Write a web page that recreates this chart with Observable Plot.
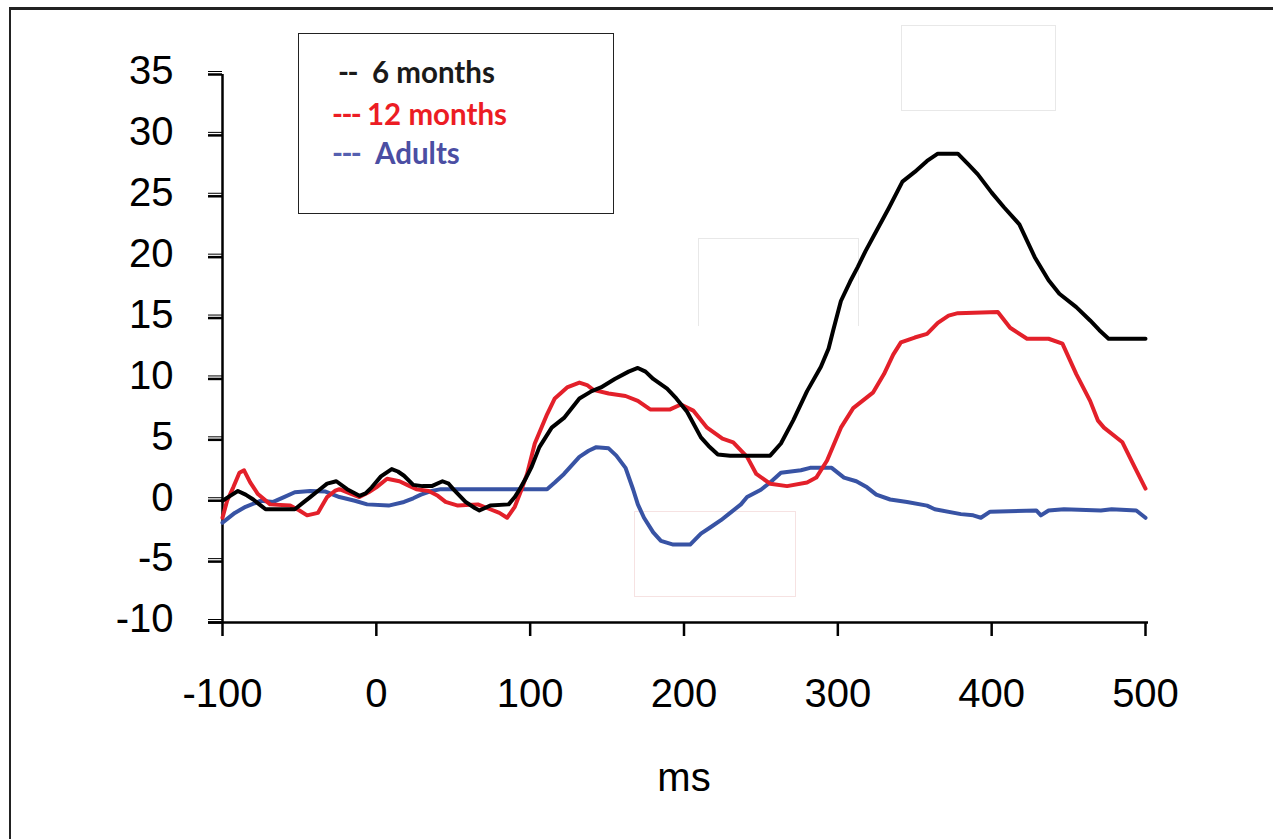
<!DOCTYPE html>
<html>
<head>
<meta charset="utf-8">
<script src="https://cdn.jsdelivr.net/npm/d3@7"></script>
<script src="https://cdn.jsdelivr.net/npm/@observablehq/plot@0.6"></script>
<style>
  html, body { margin: 0; padding: 0; background: #fff; }
  #wrap { position: relative; width: 1273px; height: 839px; overflow: hidden; }
  #frame { position: absolute; left: 9px; top: 7px; width: 1400px; height: 900px;
           border-top: 3px solid #222; border-left: 2px solid #222; }
  #chart { position: absolute; left: 0; top: 0; }
  .ghost { position: absolute; border: 1.5px solid #e8e8e8; box-sizing: border-box; }
  #legend { position: absolute; left: 298px; top: 33px; width: 316px; height: 181px;
            border: 1.5px solid #222; box-sizing: border-box; background: #fff;
            font-family: Lato, "Open Sans", sans-serif; font-weight: bold; font-size: 29.5px; }
  #legend span { position: absolute; line-height: 1; white-space: pre; }
  #legend span.dash { letter-spacing: -1.6px; }
</style>
</head>
<body>
<div id="wrap">
  <div id="frame"></div>
  <div class="ghost" style="left:901px;top:25px;width:155px;height:86px;"></div>
  <div class="ghost" style="left:698px;top:238px;width:161px;height:88px;border-bottom:none;"></div>
  <div class="ghost" style="left:634px;top:511px;width:162px;height:86px;border-color:#f6e2e2;"></div>
  <div id="chart"></div>
  <div id="legend"></div>
</div>
<script>
// ---- data ----
const seriesNames = ["6 months", "12 months", "Adults"];
const seriesColors = ["#000000", "#e3202a", "#3853a4"];
const legendTextColors = ["#1a1a1a", "#ec1c24", "#4b4ea3"];
const legendDashColors = ["#1a1a1a", "#ec1c24", "#5560b0"];
const legendDashes = ["--", "---", "---"];

const xTicks = [-100, 0, 100, 200, 300, 400, 500];
const yTicks = [-10, -5, 0, 5, 10, 15, 20, 25, 30, 35];

const msBlack = [-100,-95,-90,-85,-80,-75,-72,-60,-53,-48,-43,-37,-32,-26,-19,-11,-7,-3,3,10,14,18,24,30,36,43,47,50,58,64,67,74,86,90,93,97,101,106,114,122,132,140,146,155,164,170,175,180,189,195,202,211,216,222,230,256,263,271,280,289,294,297,302,308,313,318,324,333,342,350,358,365,378,385,391,400,408,418,428,437,444,455,464,470,476,500];
const valBlack = [0,0.4,0.8,0.5,0.1,-0.4,-0.7,-0.7,-0.7,-0.2,0.3,0.9,1.4,1.6,0.95,0.4,0.6,1.1,2.0,2.6,2.4,2.05,1.3,1.2,1.2,1.6,1.4,0.95,-0.1,-0.6,-0.8,-0.4,-0.3,0.3,0.9,1.8,2.8,4.4,6.0,6.8,8.4,9.0,9.3,10.0,10.6,10.9,10.6,10.0,9.2,8.4,7.3,5.2,4.5,3.8,3.7,3.7,4.7,6.6,9.0,11.0,12.5,14.0,16.4,18.0,19.2,20.5,21.9,24.0,26.2,27.0,27.9,28.5,28.5,27.6,26.8,25.3,24.1,22.7,20.0,18.1,17.0,15.9,14.8,14.0,13.3,13.3];

const msRed = [-100,-97,-93,-89,-86,-82,-77,-69,-56,-50,-45,-38,-32,-27,-24,-16,-11,-5,0,7,15,20,26,34,40,45,53,66,74,80,85,90,94,98,103,111,116,124,132,137,141,151,162,170,178,191,198,206,215,225,232,241,247,256,267,280,286,293,302,310,323,330,336,341,350,358,365,372,378,404,412,423,437,446,455,464,469,473,485,492,500];
const valRed = [-1.4,0.0,1.1,2.3,2.5,1.5,0.55,-0.3,-0.4,-0.8,-1.2,-1.0,0.3,0.8,0.95,0.55,0.3,0.7,1.1,1.8,1.6,1.3,0.95,0.8,0.4,-0.1,-0.4,-0.3,-0.7,-1.0,-1.4,-0.5,0.8,2.2,4.7,7.1,8.4,9.3,9.7,9.5,9.1,8.8,8.6,8.2,7.5,7.5,7.9,7.4,6.0,5.1,4.8,3.6,2.2,1.4,1.2,1.5,1.9,3.3,6.0,7.6,8.9,10.4,12.0,13.0,13.4,13.7,14.6,15.2,15.4,15.5,14.2,13.3,13.3,12.9,10.4,8.2,6.6,6.0,4.8,3.0,1.0];

const msBlue = [-100,-92,-85,-75,-67,-60,-53,-43,-33,-24,-14,-6,8,18,24,29,36,42,111,116,122,132,138,143,151,156,162,167,170,174,180,185,193,204,211,217,224,229,237,241,250,256,263,276,282,296,304,312,319,325,334,345,358,363,380,388,393,399,429,432,437,447,471,478,494,500];
const valBlue = [-1.8,-1.0,-0.5,0,-0.1,0.3,0.7,0.8,0.75,0.3,0,-0.3,-0.4,-0.1,0.2,0.5,0.8,0.95,0.95,1.5,2.2,3.6,4.1,4.4,4.3,3.7,2.7,0.9,-0.3,-1.4,-2.6,-3.3,-3.6,-3.6,-2.7,-2.2,-1.6,-1.1,-0.3,0.3,0.9,1.5,2.3,2.5,2.7,2.7,1.9,1.6,1.1,0.5,0.1,-0.1,-0.4,-0.7,-1.1,-1.2,-1.4,-0.9,-0.8,-1.2,-0.8,-0.7,-0.8,-0.7,-0.8,-1.4];

// ---- build table ----
const toRows = (name, ms, vals) => ms.map((m, i) => ({series: name, ms: m, value: vals[i]}));
const rowsBlack = toRows(seriesNames[0], msBlack, valBlack);
const rowsRed = toRows(seriesNames[1], msRed, valRed);
const rowsBlue = toRows(seriesNames[2], msBlue, valBlue);

const fmt = d => String(d);

const chart = Plot.plot({
  width: 1273,
  height: 839,
  marginLeft: 222,
  marginRight: 128,
  marginTop: 74,
  marginBottom: 217,
  x: {domain: [xTicks[0], xTicks[xTicks.length - 1]]},
  y: {domain: [yTicks[0], yTicks[yTicks.length - 1]]},
  style: {fontFamily: "'Liberation Sans', Arial, sans-serif", fontSize: "40px", color: "#000", background: "transparent", overflow: "visible"},
  marks: [
    Plot.axisY({ticks: yTicks, tickSize: 14, strokeWidth: 2.5, tickFormat: fmt, label: null, fontSize: 40, text: null}),
    Plot.axisY({ticks: yTicks, tickSize: 14, tickPadding: 35, tickFormat: fmt, label: null, fontSize: 40, tick: null, dy: -3}),
    Plot.axisX({ticks: xTicks, tickSize: 14, tickPadding: 42, strokeWidth: 2.5, tickFormat: fmt, label: "ms", labelAnchor: "center", labelArrow: "none", labelOffset: 168, fontSize: 40}),
    Plot.ruleX([xTicks[0]], {strokeWidth: 2.5}),
    Plot.ruleY([yTicks[0]], {strokeWidth: 2.5, insetLeft: -14, insetRight: -3}),
    Plot.line(rowsBlue, {x: "ms", y: "value", stroke: seriesColors[2], strokeWidth: 4, strokeLinejoin: "round"}),
    Plot.line(rowsRed, {x: "ms", y: "value", stroke: seriesColors[1], strokeWidth: 4, strokeLinejoin: "round"}),
    Plot.line(rowsBlack, {x: "ms", y: "value", stroke: seriesColors[0], strokeWidth: 4, strokeLinejoin: "round"})
  ]
});
document.getElementById("chart").appendChild(chart);

// ---- legend ----
const legend = document.getElementById("legend");
const dashLeft = [39, 33, 33];
const nameLeft = [73, 68, 76];
const rowTop = [23, 65, 104];
seriesNames.forEach((name, i) => {
  const d = document.createElement("span");
  d.className = "dash";
  d.textContent = legendDashes[i];
  d.style.left = dashLeft[i] + "px";
  d.style.top = rowTop[i] + "px";
  d.style.color = legendDashColors[i];
  legend.appendChild(d);
  const t = document.createElement("span");
  t.textContent = name;
  t.style.left = nameLeft[i] + "px";
  t.style.top = rowTop[i] + "px";
  t.style.color = legendTextColors[i];
  legend.appendChild(t);
});
</script>
</body>
</html>
